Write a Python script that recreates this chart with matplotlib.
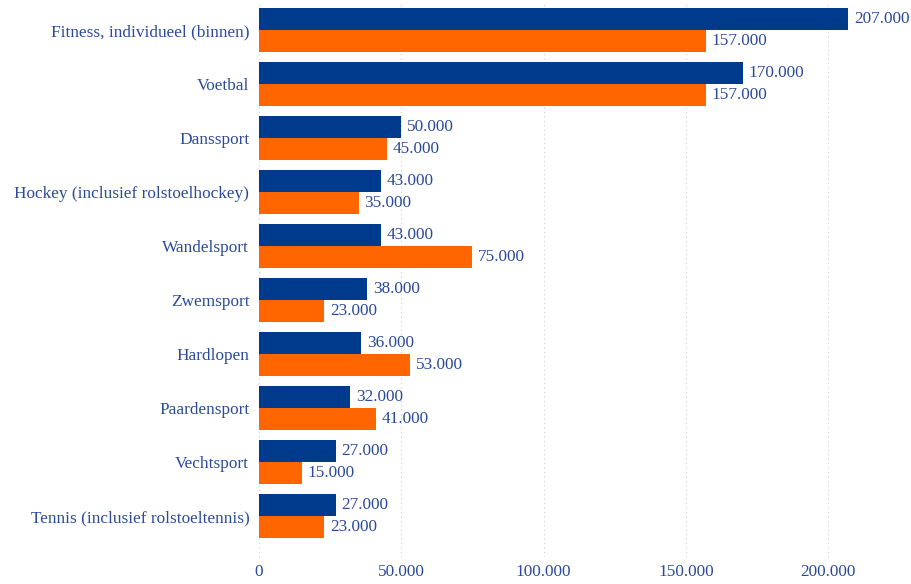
import numpy as np
import matplotlib.pyplot as plt

categories = ['Fitness, individueel (binnen)', 'Voetbal', 'Danssport',
              'Hockey (inclusief rolstoelhockey)', 'Wandelsport', 'Zwemsport',
              'Hardlopen', 'Paardensport', 'Vechtsport',
              'Tennis (inclusief rolstoeltennis)']
series_blue = [207000, 170000, 50000, 43000, 43000, 38000, 36000, 32000, 27000, 27000]
series_orange = [157000, 157000, 45000, 35000, 75000, 23000, 53000, 41000, 15000, 23000]
xticks = [0, 50000, 100000, 150000, 200000]

blue = '#003a8c'
orange = '#ff6600'
text_color = '#2b4a9a'

plt.rcParams['font.family'] = ['Liberation Serif', 'DejaVu Serif']
fs = 12.4


def fmt(v):
    return '{:,}'.format(v).replace(',', '.')


fig = plt.figure(figsize=(9.12, 5.84), dpi=100)
ax = fig.add_axes([259/912, 27/584, 649/912, 554/584])

y = np.arange(len(categories))
h = 0.415
ax.barh(y - h/2, series_blue, height=h, color=blue, zorder=2)
ax.barh(y + h/2, series_orange, height=h, color=orange, zorder=2)

for i in range(len(categories)):
    ax.text(series_blue[i] + 2000, y[i] - h/2, fmt(series_blue[i]), va='center', ha='left',
            fontsize=fs, color=text_color)
    ax.text(series_orange[i] + 2000, y[i] + h/2, fmt(series_orange[i]), va='center', ha='left',
            fontsize=fs, color=text_color)

ax.set_xlim(0, 228000)
ax.set_ylim(9.76, -0.5)
ax.set_yticks(y)
ax.set_yticklabels(categories, fontsize=fs, color=text_color)
ax.set_xticks(xticks)
ax.set_xticklabels([fmt(v) for v in xticks], fontsize=fs, color=text_color)
ax.tick_params(axis='y', length=0, pad=7)
ax.tick_params(axis='x', length=0, pad=5)
ax.grid(axis='x', color='#cccccc', linestyle=(0, (1, 3)), linewidth=0.8, zorder=0)
for s in ax.spines.values():
    s.set_visible(False)

fig.savefig('out.png', dpi=100)
